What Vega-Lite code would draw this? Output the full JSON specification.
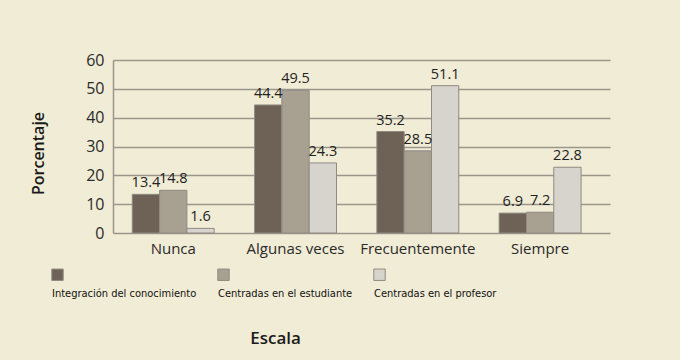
{
  "$schema": "https://vega.github.io/schema/vega-lite/v6.json",
  "width": 497,
  "height": 173,
  "autosize": {"type": "none"},
  "padding": {"left": 113, "top": 60, "right": 70, "bottom": 127},
  "background": "#F1ECD5",
  "config": {
    "view": {"stroke": null},
    "font": "Open Sans"
  },
  "data": {
    "values": [
      {"escala": "Nunca", "serie": "Integración del conocimiento", "valor": 13.4},
      {"escala": "Nunca", "serie": "Centradas en el estudiante", "valor": 14.8},
      {"escala": "Nunca", "serie": "Centradas en el profesor", "valor": 1.6},
      {"escala": "Algunas veces", "serie": "Integración del conocimiento", "valor": 44.4},
      {"escala": "Algunas veces", "serie": "Centradas en el estudiante", "valor": 49.5},
      {"escala": "Algunas veces", "serie": "Centradas en el profesor", "valor": 24.3},
      {"escala": "Frecuentemente", "serie": "Integración del conocimiento", "valor": 35.2},
      {"escala": "Frecuentemente", "serie": "Centradas en el estudiante", "valor": 28.5},
      {"escala": "Frecuentemente", "serie": "Centradas en el profesor", "valor": 51.1},
      {"escala": "Siempre", "serie": "Integración del conocimiento", "valor": 6.9},
      {"escala": "Siempre", "serie": "Centradas en el estudiante", "valor": 7.2},
      {"escala": "Siempre", "serie": "Centradas en el profesor", "valor": 22.8}
    ]
  },
  "encoding": {
    "x": {
      "field": "escala",
      "type": "nominal",
      "sort": ["Nunca", "Algunas veces", "Frecuentemente", "Siempre"],
      "scale": {"paddingInner": 0.33, "paddingOuter": 0.197, "align": 0.4},
      "axis": {
        "title": "Escala",
        "titleX": 162,
        "titleY": 105,
        "titleAlign": "center",
        "titleBaseline": "middle",
        "titleFontSize": 17,
        "titleFontWeight": 600,
        "titleColor": "#1a1a1a",
        "labelAngle": 0,
        "labelFontSize": 15,
        "labelColor": "#2a2a2a",
        "labelPadding": 8,
        "ticks": false,
        "domain": false
      }
    },
    "y": {
      "field": "valor",
      "type": "quantitative",
      "scale": {"domain": [0, 60]},
      "axis": {
        "title": "Porcentaje",
        "titleX": -75,
        "titleY": 93,
        "titleAlign": "center",
        "titleBaseline": "middle",
        "titleAngle": -90,
        "titleFontSize": 16,
        "titleFontWeight": 600,
        "titleColor": "#1a1a1a",
        "values": [0, 10, 20, 30, 40, 50, 60],
        "labelFontSize": 16,
        "labelColor": "#2a2a2a",
        "labelPadding": 9,
        "ticks": false,
        "domainColor": "#9a968c",
        "domainWidth": 1.5,
        "gridColor": "#9a968c",
        "gridWidth": 1.5
      }
    },
    "xOffset": {
      "field": "serie",
      "type": "nominal",
      "sort": ["Integración del conocimiento", "Centradas en el estudiante", "Centradas en el profesor"]
    }
  },
  "layer": [
    {
      "mark": {"type": "bar", "stroke": "#8e8a82", "strokeWidth": 1},
      "encoding": {
        "color": {
          "field": "serie",
          "type": "nominal",
          "sort": ["Integración del conocimiento", "Centradas en el estudiante", "Centradas en el profesor"],
          "scale": {
            "domain": ["Integración del conocimiento", "Centradas en el estudiante", "Centradas en el profesor"],
            "range": ["#6e6256", "#a8a192", "#d7d4ce"]
          },
          "legend": {
            "title": null,
            "orient": "none",
            "direction": "horizontal",
            "legendX": -62,
            "legendY": 208,
            "symbolType": "square",
            "symbolSize": 130,
            "symbolStrokeColor": "#8e8a82",
            "symbolStrokeWidth": 1,
            "labelFont": "DejaVu Sans Condensed, Liberation Sans Narrow, Open Sans",
            "labelFontSize": 11,
            "labelColor": "#111111",
            "labelExpr": "['', datum.label]",
            "labelBaseline": "top",
            "labelOffset": -12,
            "columnPadding": 18,
            "labelLimit": 250
          }
        }
      }
    },
    {
      "mark": {"type": "text", "baseline": "bottom", "dy": -4, "fontSize": 14.5, "color": "#222222"},
      "encoding": {
        "text": {"field": "valor", "type": "quantitative", "format": ".1f"}
      }
    }
  ]
}
